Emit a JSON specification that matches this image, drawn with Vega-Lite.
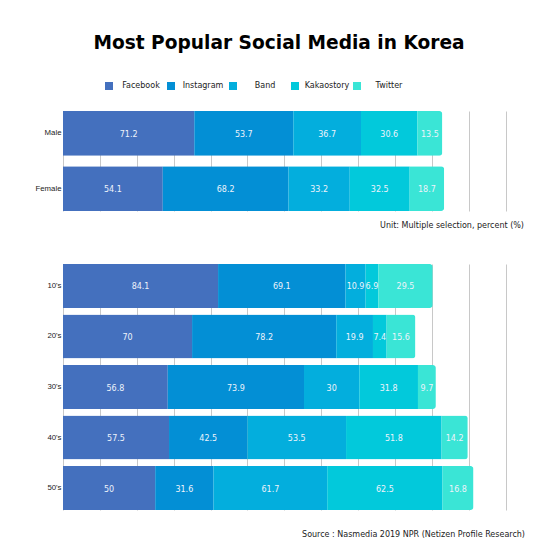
{
  "$schema": "https://vega.github.io/schema/vega-lite/v6.json",
  "padding": {"left": 5, "top": 34, "right": 5, "bottom": 5},
  "background": "white",
  "title": {"text": "Most Popular Social Media in Korea", "font": "DejaVu Sans", "fontSize": 18.6, "fontWeight": "bold", "color": "#000000", "anchor": "middle", "offset": 29, "dx": 14},
  "config": {
    "view": {"stroke": null},
    "axisX": {"grid": true, "values": [0, 50, 100, 150, 200, 250], "labels": false, "ticks": false, "domain": false, "title": null, "gridColor": "#c8c8c8", "gridWidth": 1},
    "axisY": {"title": null, "ticks": false, "domain": false, "grid": false, "labelFont": "Liberation Sans", "labelFontSize": 7.8, "labelColor": "#222222", "labelPadding": 2}
  },
  "datasets": {
    "gender": [
      {"group": "Male", "platform": "Facebook", "idx": 1, "value": 71.2},
      {"group": "Male", "platform": "Instagram", "idx": 2, "value": 53.7},
      {"group": "Male", "platform": "Band", "idx": 3, "value": 36.7},
      {"group": "Male", "platform": "Kakaostory", "idx": 4, "value": 30.6},
      {"group": "Male", "platform": "Twitter", "idx": 5, "value": 13.5},
      {"group": "Female", "platform": "Facebook", "idx": 1, "value": 54.1},
      {"group": "Female", "platform": "Instagram", "idx": 2, "value": 68.2},
      {"group": "Female", "platform": "Band", "idx": 3, "value": 33.2},
      {"group": "Female", "platform": "Kakaostory", "idx": 4, "value": 32.5},
      {"group": "Female", "platform": "Twitter", "idx": 5, "value": 18.7}
    ],
    "age": [
      {"group": "10's", "platform": "Facebook", "idx": 1, "value": 84.1},
      {"group": "10's", "platform": "Instagram", "idx": 2, "value": 69.1},
      {"group": "10's", "platform": "Band", "idx": 3, "value": 10.9},
      {"group": "10's", "platform": "Kakaostory", "idx": 4, "value": 6.9},
      {"group": "10's", "platform": "Twitter", "idx": 5, "value": 29.5},
      {"group": "20's", "platform": "Facebook", "idx": 1, "value": 70},
      {"group": "20's", "platform": "Instagram", "idx": 2, "value": 78.2},
      {"group": "20's", "platform": "Band", "idx": 3, "value": 19.9},
      {"group": "20's", "platform": "Kakaostory", "idx": 4, "value": 7.4},
      {"group": "20's", "platform": "Twitter", "idx": 5, "value": 15.6},
      {"group": "30's", "platform": "Facebook", "idx": 1, "value": 56.8},
      {"group": "30's", "platform": "Instagram", "idx": 2, "value": 73.9},
      {"group": "30's", "platform": "Band", "idx": 3, "value": 30},
      {"group": "30's", "platform": "Kakaostory", "idx": 4, "value": 31.8},
      {"group": "30's", "platform": "Twitter", "idx": 5, "value": 9.7},
      {"group": "40's", "platform": "Facebook", "idx": 1, "value": 57.5},
      {"group": "40's", "platform": "Instagram", "idx": 2, "value": 42.5},
      {"group": "40's", "platform": "Band", "idx": 3, "value": 53.5},
      {"group": "40's", "platform": "Kakaostory", "idx": 4, "value": 51.8},
      {"group": "40's", "platform": "Twitter", "idx": 5, "value": 14.2},
      {"group": "50's", "platform": "Facebook", "idx": 1, "value": 50},
      {"group": "50's", "platform": "Instagram", "idx": 2, "value": 31.6},
      {"group": "50's", "platform": "Band", "idx": 3, "value": 61.7},
      {"group": "50's", "platform": "Kakaostory", "idx": 4, "value": 62.5},
      {"group": "50's", "platform": "Twitter", "idx": 5, "value": 16.8}
    ]
  },
  "spacing": 34,
  "align": "none",
  "vconcat": [
    {
      "width": 461,
      "height": 100,
      "data": {"name": "gender"},
      "title": {"text": "Unit: Multiple selection, percent (%)", "orient": "bottom", "anchor": "end", "font": "DejaVu Sans", "fontSize": 8, "fontWeight": "normal", "color": "#222222", "offset": 11},
      "encoding": {
        "y": {"field": "group", "type": "nominal", "sort": ["Male", "Female"], "scale": {"paddingInner": 0.19, "paddingOuter": 0}, "axis": {"minExtent": 58}}
      },
      "layer": [
        {
          "mark": {"type": "bar", "cornerRadiusEnd": 3},
          "encoding": {
            "x": {"field": "value", "type": "quantitative", "stack": "zero", "scale": {"domain": [0, 250], "nice": false}},
            "order": {"field": "idx", "type": "quantitative"},
            "color": {"field": "platform", "type": "nominal", "scale": {"domain": ["Facebook", "Instagram", "Band", "Kakaostory", "Twitter"], "range": ["#4470be", "#038fd5", "#03aedd", "#02c9db", "#3ae5d6"]},
              "legend": {"orient": "none", "legendX": 42, "legendY": -29, "direction": "horizontal", "columns": 5, "gridAlign": "all", "title": null, "symbolType": "square", "symbolSize": 64, "symbolStrokeWidth": 0, "symbolOpacity": 1, "labelAlign": "center", "labelOffset": 28, "labelFont": "DejaVu Sans", "labelFontSize": 8, "labelColor": "#222222", "columnPadding": 3, "padding": 0}}
          }
        },
        {
          "transform": [
            {"stack": "value", "groupby": ["group"], "sort": [{"field": "idx", "order": "ascending"}], "as": ["v0", "v1"]},
            {"fold": ["v0", "v1"], "as": ["edge", "pos"]},
            {"aggregate": [{"op": "mean", "field": "pos", "as": "mid"}], "groupby": ["group", "platform", "value"]}
          ],
          "mark": {"type": "text", "color": "#eef3fb", "font": "DejaVu Sans", "fontSize": 8, "align": "center", "baseline": "middle", "dy": 1.5},
          "encoding": {
            "x": {"field": "mid", "type": "quantitative"},
            "text": {"field": "value", "type": "nominal"}
          }
        }
      ]
    },
    {
      "width": 461,
      "height": 246,
      "data": {"name": "age"},
      "title": {"text": "Source : Nasmedia 2019 NPR (Netizen Profile Research)", "orient": "bottom", "anchor": "end", "font": "DejaVu Sans", "fontSize": 8, "fontWeight": "normal", "color": "#222222", "offset": 21, "dx": 1},
      "encoding": {
        "y": {"field": "group", "type": "nominal", "sort": ["10's", "20's", "30's", "40's", "50's"], "scale": {"paddingInner": 0.13, "paddingOuter": 0}, "axis": {"minExtent": 55}}
      },
      "layer": [
        {
          "mark": {"type": "bar", "cornerRadiusEnd": 3},
          "encoding": {
            "x": {"field": "value", "type": "quantitative", "stack": "zero", "scale": {"domain": [0, 250], "nice": false}},
            "order": {"field": "idx", "type": "quantitative"},
            "color": {"field": "platform", "type": "nominal", "scale": {"domain": ["Facebook", "Instagram", "Band", "Kakaostory", "Twitter"], "range": ["#4470be", "#038fd5", "#03aedd", "#02c9db", "#3ae5d6"]},
              "legend": {"orient": "none", "legendX": 42, "legendY": -29, "direction": "horizontal", "columns": 5, "gridAlign": "all", "title": null, "symbolType": "square", "symbolSize": 64, "symbolStrokeWidth": 0, "symbolOpacity": 1, "labelAlign": "center", "labelOffset": 28, "labelFont": "DejaVu Sans", "labelFontSize": 8, "labelColor": "#222222", "columnPadding": 3, "padding": 0}}
          }
        },
        {
          "transform": [
            {"stack": "value", "groupby": ["group"], "sort": [{"field": "idx", "order": "ascending"}], "as": ["v0", "v1"]},
            {"fold": ["v0", "v1"], "as": ["edge", "pos"]},
            {"aggregate": [{"op": "mean", "field": "pos", "as": "mid"}], "groupby": ["group", "platform", "value"]}
          ],
          "mark": {"type": "text", "color": "#eef3fb", "font": "DejaVu Sans", "fontSize": 8, "align": "center", "baseline": "middle", "dy": 1.5},
          "encoding": {
            "x": {"field": "mid", "type": "quantitative"},
            "text": {"field": "value", "type": "nominal"}
          }
        }
      ]
    }
  ]
}
